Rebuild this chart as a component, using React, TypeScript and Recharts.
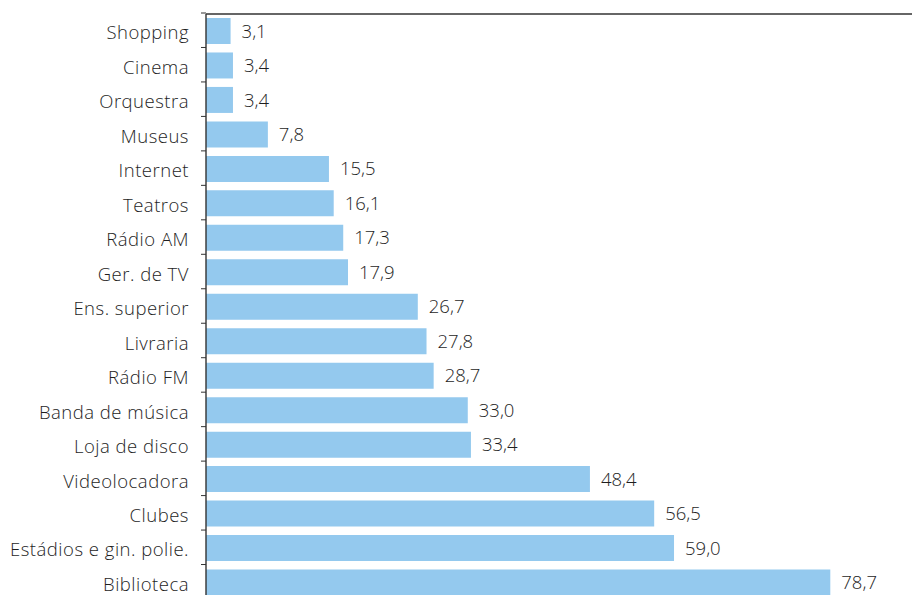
import { BarChart, Bar, XAxis, YAxis, LabelList } from 'recharts';

const categories = [
  'Shopping',
  'Cinema',
  'Orquestra',
  'Museus',
  'Internet',
  'Teatros',
  'Rádio AM',
  'Ger. de TV',
  'Ens. superior',
  'Livraria',
  'Rádio FM',
  'Banda de música',
  'Loja de disco',
  'Videolocadora',
  'Clubes',
  'Estádios e gin. polie.',
  'Biblioteca',
];

const values = [3.1, 3.4, 3.4, 7.8, 15.5, 16.1, 17.3, 17.9, 26.7, 27.8, 28.7, 33.0, 33.4, 48.4, 56.5, 59.0, 78.7];

const data = categories.map((name, i) => ({ name, value: values[i] }));

const FONT = '"Open Sans", sans-serif';
const AXIS_X = 206;
const PLOT_TOP = 13;
const PLOT_H = 586;
const BAND = PLOT_H / categories.length;

function CategoryTick(props: any) {
  const { y, payload } = props;
  return (
    <g>
      <line x1={AXIS_X - 5} x2={AXIS_X} y1={y - BAND / 2 - 1} y2={y - BAND / 2 - 1} stroke="#333" />
      <text
        x={AXIS_X - 17}
        y={y + 1.5}
        dy="0.36em"
        textAnchor="end"
        fill="#1e1e1e"
        fontSize={18.5}
        fontWeight={300}
        letterSpacing={0.5}
        fontFamily={FONT}
      >
        {payload.value}
      </text>
    </g>
  );
}

const fmt = (v: any) => Number(v).toFixed(1).replace('.', ',');

export default function App() {
  return (
    <div style={{ position: 'absolute', left: 0, top: 0, width: 913, height: 595, overflow: 'hidden', background: '#fff' }}>
      <BarChart
        width={913}
        height={PLOT_TOP + 1 + PLOT_H + 2}
        data={data}
        layout="vertical"
        margin={{ top: PLOT_TOP, right: 1, left: 0, bottom: 2 }}
        barCategoryGap={4}
      >
        <XAxis
          type="number"
          orientation="top"
          domain={[0, 89]}
          height={1}
          tick={false}
          tickLine={false}
          axisLine={{ stroke: '#333', strokeWidth: 1.4 }}
        />
        <YAxis
          type="category"
          dataKey="name"
          width={AXIS_X}
          interval={0}
          tickLine={false}
          axisLine={{ stroke: '#333', strokeWidth: 1.4 }}
          tick={<CategoryTick />}
        />
        <Bar dataKey="value" fill="#94c9ee" isAnimationActive={false}>
          <LabelList
            dataKey="value"
            position="right"
            offset={11}
            formatter={fmt}
            fill="#1e1e1e"
            fontSize={18.5}
            fontWeight={300}
            fontFamily={FONT}
          />
        </Bar>
      </BarChart>
    </div>
  );
}
